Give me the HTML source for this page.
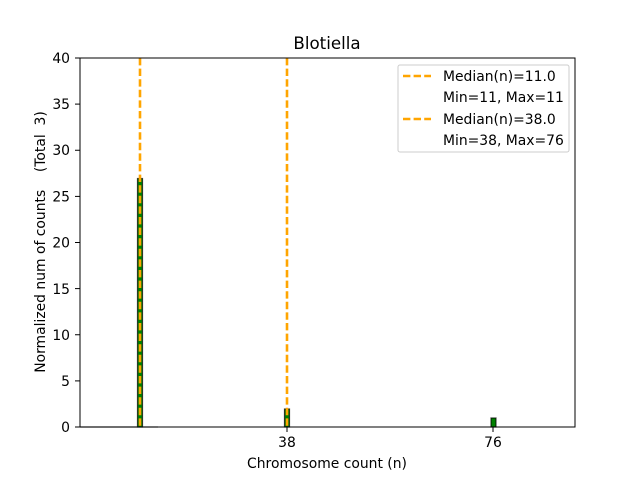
<!DOCTYPE html>
<html><head><style>body{margin:0;background:#fff}svg{display:block}text{font-family:"DejaVu Sans","Liberation Sans",sans-serif;fill:#000}</style></head>
<body>
<svg width="640" height="480" viewBox="0 0 640 480" xmlns="http://www.w3.org/2000/svg">
<rect width="640" height="480" fill="#fff"/>
<line x1="80" y1="427" x2="158" y2="427" stroke="#bbb" stroke-width="1.5"/>
<rect x="137.5" y="178.5" width="5" height="248.5" fill="green" stroke="#000" stroke-width="1.2" stroke-opacity="0.7"/>
<rect x="284.5" y="409" width="5" height="18" fill="green" stroke="#000" stroke-width="1.2" stroke-opacity="0.7"/>
<rect x="491" y="418" width="5" height="9" fill="green" stroke="#000" stroke-width="1.2" stroke-opacity="0.7"/>
<line x1="140" y1="58" x2="140" y2="427" stroke="orange" stroke-width="2.6" stroke-dasharray="7.4,3.2"/>
<line x1="287" y1="58" x2="287" y2="427" stroke="orange" stroke-width="2.6" stroke-dasharray="7.4,3.2"/>
<rect x="80" y="58" width="495" height="369" fill="none" stroke="#000" stroke-width="1"/>
<g stroke="#000">
<line x1="75" y1="427" x2="80" y2="427"/><line x1="75" y1="380.9" x2="80" y2="380.9"/><line x1="75" y1="334.75" x2="80" y2="334.75"/><line x1="75" y1="288.6" x2="80" y2="288.6"/><line x1="75" y1="242.5" x2="80" y2="242.5"/><line x1="75" y1="196.4" x2="80" y2="196.4"/><line x1="75" y1="150.25" x2="80" y2="150.25"/><line x1="75" y1="104.1" x2="80" y2="104.1"/><line x1="75" y1="58" x2="80" y2="58"/>
<line x1="287" y1="427" x2="287" y2="432"/><line x1="493" y1="427" x2="493" y2="432"/>
</g>
<g font-size="13.9" text-anchor="end">
<text x="70" y="432">0</text><text x="70" y="386">5</text><text x="70" y="340">10</text><text x="70" y="294">15</text><text x="70" y="247.5">20</text><text x="70" y="201.5">25</text><text x="70" y="155">30</text><text x="70" y="109">35</text><text x="70" y="63">40</text>
</g>
<g font-size="13.9" text-anchor="middle">
<text x="287" y="447">38</text><text x="493" y="447">76</text>
<text x="327" y="468">Chromosome count (n)</text>
<text x="327" y="49" font-size="16.7">Blotiella</text>
<text transform="translate(45,242) rotate(-90)" xml:space="preserve">Normalized num of counts    (Total  3)</text>
</g>
<rect x="398" y="65" width="171" height="87" fill="#fff" stroke="#ccc" rx="2"/>
<line x1="403" y1="76" x2="431" y2="76" stroke="orange" stroke-width="2.6" stroke-dasharray="7.4,3.2"/>
<line x1="403" y1="119" x2="431" y2="119" stroke="orange" stroke-width="2.6" stroke-dasharray="7.4,3.2"/>
<g font-size="13.9">
<text x="443" y="81">Median(n)=11.0</text>
<text x="443" y="102">Min=11, Max=11</text>
<text x="443" y="124">Median(n)=38.0</text>
<text x="443" y="145">Min=38, Max=76</text>
</g>
</svg>
</body></html>
